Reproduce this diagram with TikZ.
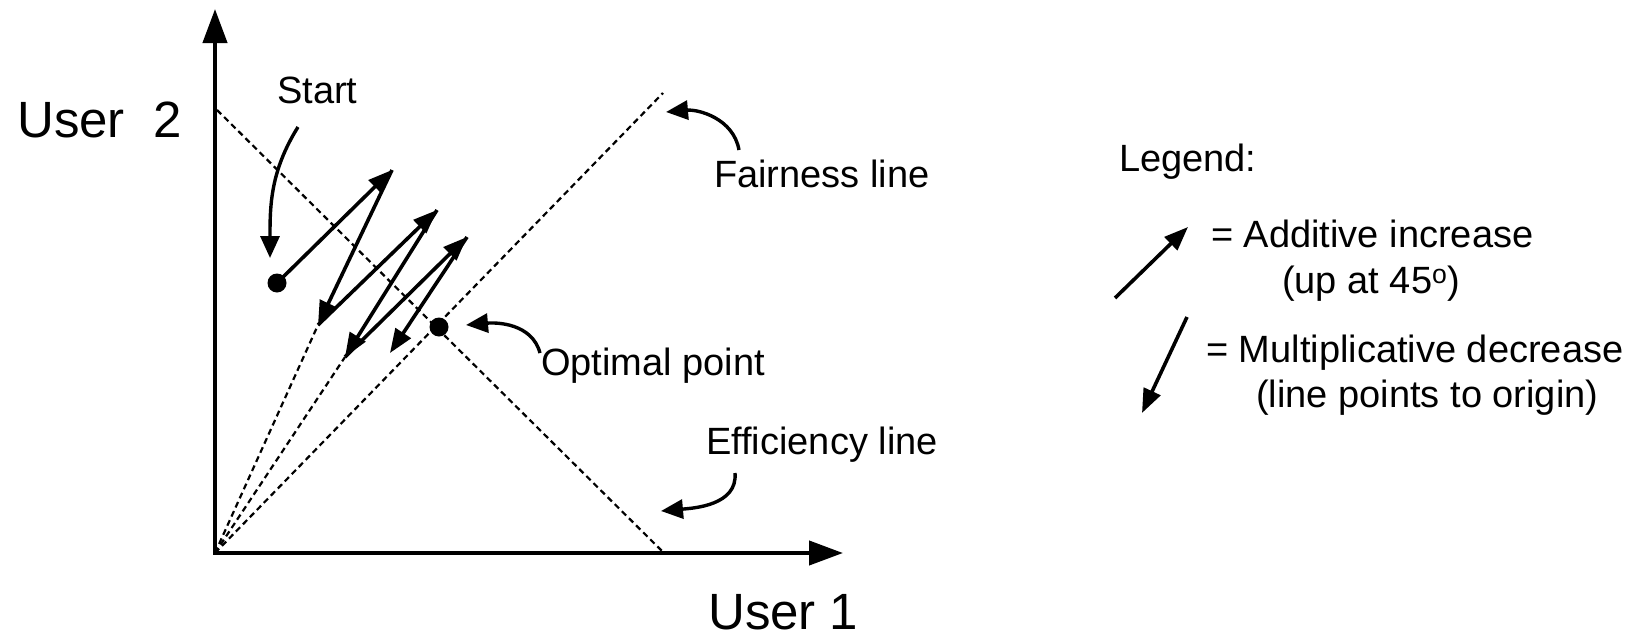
\documentclass[tikz,border=0pt]{standalone}
\usepackage{fontspec}
\setmainfont{Liberation Sans}
\usetikzlibrary{arrows.meta}
\tikzset{
  axis/.style={line width=4.2pt, -{Triangle[length=34pt,width=24pt]}},
  guide/.style={line width=2.2pt, dash pattern=on 6pt off 4pt},
  zig/.style={line width=3.6pt, -{Triangle[length=24pt,width=18pt]}},
  pointer/.style={line width=3.4pt, -{Triangle[length=22pt,width=19pt]}},
  dot/.style={circle, fill=black, inner sep=0pt, minimum size=19pt},
  lbl/.style={anchor=base west, inner sep=0pt, font=\fontsize{38}{45}\selectfont},
  big/.style={anchor=base west, inner sep=0pt, font=\fontsize{51}{60}\selectfont}
}
\begin{document}
\begin{tikzpicture}[x=1pt,y=-1pt]
\useasboundingbox (0,0) rectangle (1644,637);

% axes
\coordinate (O) at (215,553);
\coordinate (ytop) at (215,9);
\coordinate (xend) at (843,553);
\draw[axis] (O) -- (ytop);
\draw[axis] (213,553) coordinate (xstart) -- (xend);

% efficiency and fairness lines
\coordinate (effA) at (217,110);
\coordinate (effB) at (664,553);
\coordinate (fairB) at (663,93);
\draw[guide] (effA) -- (effB);
\draw[guide] (O) -- (fairB);

% trajectory points
\node[dot] (S) at (277,283) {};
\node[dot] (opt) at (439,327) {};
\coordinate (A1) at (392,170);
\coordinate (M1) at (318,325);
\coordinate (A2) at (437,210);
\coordinate (M2) at (345,357);
\coordinate (A3) at (467,237);
\coordinate (M3) at (390,353);

% rays towards the origin
\draw[guide] (O) -- (M1);
\draw[guide] (O) -- (M2);

% additive increase / multiplicative decrease steps
\draw[zig] (S.center) -- (A1);
\draw[zig] (A1) -- (M1);
\draw[zig] (M1) -- (A2);
\draw[zig] (A2) -- (M2);
\draw[zig] (M2) -- (A3);
\draw[zig] (A3) -- (M3);

% labels
\node[big] (user2) at (17,137) {User\ \ 2};
\node[big] (user1) at (708,629) {User 1};
\node[lbl] (start) at (277,103) {Start};
\node[lbl] (fair) at (714,187) {Fairness line};
\node[lbl] (optl) at (541,375) {Optimal point};
\node[lbl] (eff) at (706,454) {Efficiency line};

% label pointers
\coordinate (startT) at (298,127);
\coordinate (startH) at (270,258);
\draw[pointer] (startT) to[out=-122,in=90] (startH);
\coordinate (fairT) at (739,150);
\coordinate (fairH) at (666,112);
\draw[pointer] (fairT) to[out=100,in=5] (fairH);
\coordinate (optT) at (540,353);
\coordinate (optH) at (466,325);
\draw[pointer] (optT) to[out=105,in=5] (optH);
\coordinate (effT) at (735,473);
\coordinate (effH) at (661,511);
\draw[pointer] (effT) to[out=-85,in=5] (effH);

% legend
\node[lbl] (leg) at (1119,171) {Legend:};
\coordinate (aiT) at (1115,298);
\coordinate (aiH) at (1188,227);
\draw[zig] (aiT) -- (aiH);
\node[lbl] (ai1) at (1211,247) {= Additive increase};
\node[lbl] (ai2) at (1282,293) {(up at 45\textsuperscript{o})};
\coordinate (mdT) at (1187,317);
\coordinate (mdH) at (1142,413);
\draw[zig] (mdT) -- (mdH);
\node[lbl] (md1) at (1206,362) {= Multiplicative decrease};
\node[lbl] (md2) at (1256,407) {(line points to origin)};
\end{tikzpicture}
\end{document}
